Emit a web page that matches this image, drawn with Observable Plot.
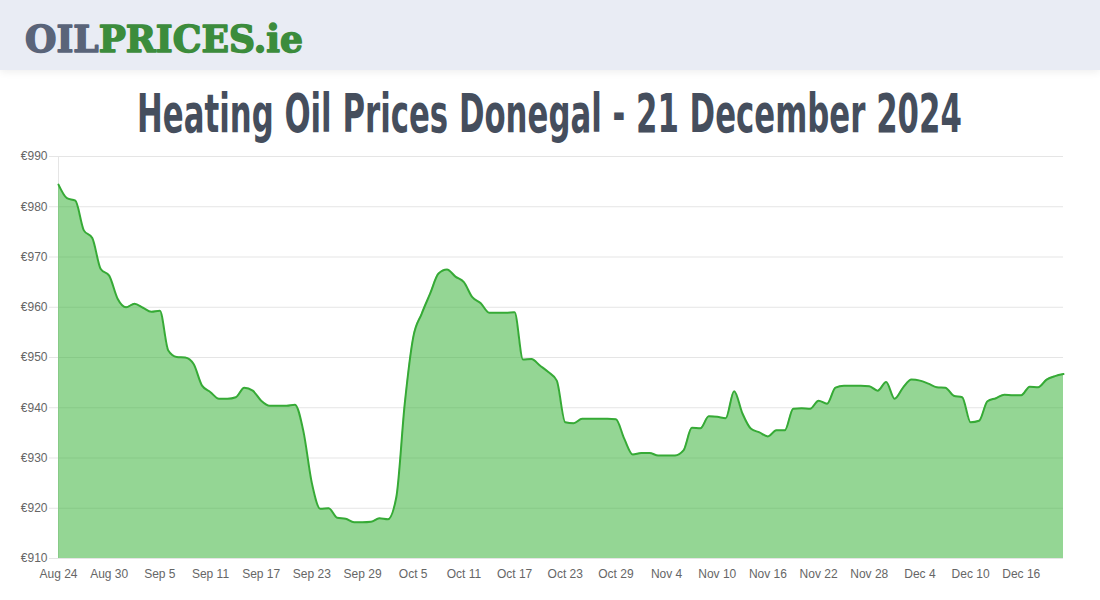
<!DOCTYPE html>
<html>
<head>
<meta charset="utf-8">
<script src="https://cdn.jsdelivr.net/npm/d3@7"></script>
<script src="https://cdn.jsdelivr.net/npm/@observablehq/plot@0.6"></script>
<style>
  html, body { margin: 0; padding: 0; background: #fff; width: 1100px; height: 600px; overflow: hidden; }
  #header { position: absolute; left: 0; top: 0; width: 1100px; height: 70px; background: #e9ecf4; box-shadow: 0 2px 8px rgba(0,0,0,0.07); z-index: 2; }
  #header svg, #title svg { display: block; }
  #title { position: absolute; left: 0; top: 70px; width: 1100px; height: 80px; }
  #chart { position: absolute; left: 0; top: 140px; width: 1100px; height: 450px; }
</style>
</head>
<body>
<div id="header">
  <svg width="1100" height="70">
    <text id="logoText" x="0" y="0" font-family="DejaVu Serif" font-weight="bold" font-size="38" stroke-width="1.6" stroke-linejoin="round"><tspan fill="#5a6479" stroke="#5a6479">OIL</tspan><tspan fill="#3c8c3c" stroke="#3c8c3c">PRICES.ie</tspan></text>
  </svg>
</div>
<div id="title">
  <svg width="1100" height="80">
    <text id="titleText" x="0" y="0" font-family="DejaVu Sans Condensed, DejaVu Sans, sans-serif" font-weight="bold" font-size="54" fill="#454e5d">Heating Oil Prices Donegal - 21 December 2024</text>
  </svg>
</div>
<div id="chart"></div>
<script>
// ---- data ----
const startDate = "2024-08-24";
const endDate = "2024-12-21";
const prices = [
  984.4, 981.7, 981.2, 975.3, 973.8, 967.6, 966.3, 961.7, 960.0, 960.7,
  959.9, 959.1, 959.3, 951.4, 950.1, 950.0, 948.7, 944.4, 943.1, 941.8,
  941.8, 942.1, 944.0, 943.4, 941.4, 940.4, 940.4, 940.4, 940.6, 935.3,
  925.0, 919.9, 920.0, 918.1, 917.9, 917.2, 917.2, 917.3, 918.0, 917.8,
  922.2, 940.8, 954.0, 958.7, 962.7, 966.7, 967.5, 966.1, 965.0, 962.0,
  960.8, 958.9, 958.9, 958.9, 959.0, 949.6, 949.7, 948.4, 947.1, 945.4,
  937.1, 936.9, 937.8, 937.8, 937.8, 937.8, 937.7, 933.8, 930.7, 931.0,
  931.0, 930.5, 930.5, 930.5, 931.5, 936.0, 935.9, 938.3, 938.2, 937.9,
  943.3, 938.8, 935.8, 935.1, 934.3, 935.5, 935.5, 939.8, 939.9, 939.8,
  941.4, 940.8, 944.0, 944.4, 944.4, 944.4, 944.3, 943.4, 945.1, 941.8,
  944.0, 945.6, 945.4, 944.8, 944.1, 944.0, 942.4, 942.1, 937.1, 937.4,
  941.3, 941.9, 942.6, 942.5, 942.5, 944.2, 944.1, 945.6, 946.3, 946.7
];
const xTickLabels = ["2024-08-24","2024-08-30","2024-09-05","2024-09-11","2024-09-17","2024-09-23","2024-09-29",
  "2024-10-05","2024-10-11","2024-10-17","2024-10-23","2024-10-29","2024-11-04","2024-11-10","2024-11-16",
  "2024-11-22","2024-11-28","2024-12-04","2024-12-10","2024-12-16"];
const yTicks = [910, 920, 930, 940, 950, 960, 970, 980, 990];

// ---- fit header texts into their boxes ----
function fitText(id, left, baseline, targetWidth) {
  const el = document.getElementById(id);
  const w = el.getComputedTextLength();
  const s = targetWidth / w;
  el.setAttribute("transform", `translate(${left},${baseline}) scale(${s},1)`);
}
fitText("logoText", 25, 52, 278);
fitText("titleText", 137, 62, 825);

// ---- build ----
const start = new Date(startDate + "T00:00:00Z");
const end = new Date(endDate + "T00:00:00Z");
const dates = d3.utcDays(start, d3.utcDay.offset(end, 1));
const data = prices.map((p, i) => ({date: dates[i], price: p}));
const xTicks = xTickLabels.map(s => new Date(s + "T00:00:00Z"));

const chart = Plot.plot({
  width: 1100,
  height: 450,
  marginLeft: 58,
  marginRight: 37,
  marginTop: 16,
  marginBottom: 32,
  style: {fontFamily: "Liberation Sans, Arial, sans-serif", fontSize: "12px", background: "transparent"},
  x: {type: "utc", domain: [start, end], label: null},
  y: {domain: [910, 990], label: null},
  marks: [
    Plot.gridY(yTicks, {stroke: "#e5e5e5", strokeOpacity: 1}),
    Plot.ruleX([start], {stroke: "#e5e5e5", strokeWidth: 1}),
    Plot.areaY(data, {x: "date", y1: 910, y2: "price", curve: "monotone-x", fill: "#3cb43c", fillOpacity: 0.55}),
    Plot.lineY(data, {x: "date", y: "price", curve: "monotone-x", stroke: "#36aa36", strokeWidth: 2}),
    Plot.axisY(yTicks, {tickFormat: d => "€" + d, tickSize: 9, tickPadding: 2, stroke: "#e5e5e5", strokeOpacity: 1, fill: "#666", fontSize: 12, label: null}),
    Plot.axisX(xTicks, {tickFormat: d3.utcFormat("%b %-d"), tickSize: 0, tickPadding: 11, fill: "#666", fontSize: 12, label: null})
  ]
});
document.getElementById("chart").appendChild(chart);
</script>
</body>
</html>
